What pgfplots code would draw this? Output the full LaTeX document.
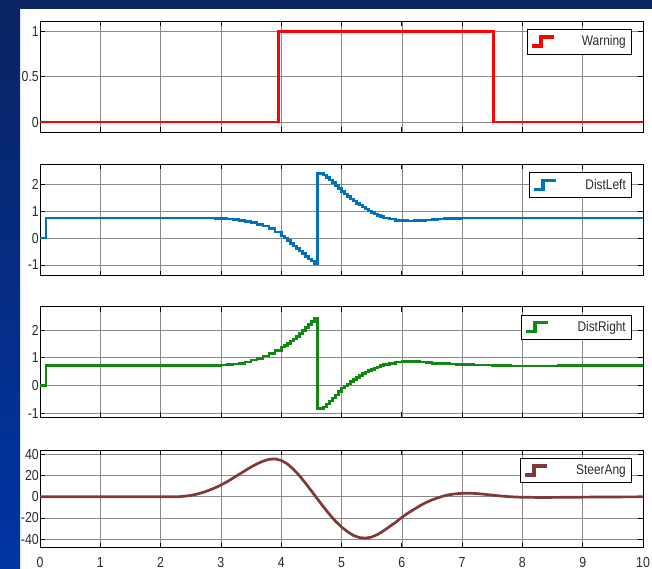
\documentclass[border=0pt]{standalone}
\usepackage{fontspec}
\setmainfont{Liberation Sans}[FakeStretch=0.85]
\usepackage{pgfplots}
\pgfplotsset{compat=1.18}
\definecolor{bgtop}{HTML}{0A2462}
\definecolor{bgbot}{HTML}{0035A6}
\definecolor{cred}{HTML}{FF0000}
\definecolor{cblue}{HTML}{0072BD}
\definecolor{cgreen}{HTML}{118811}
\definecolor{cbrown}{HTML}{7E3A38}
\definecolor{gridc}{HTML}{8A8A8A}
\definecolor{txt}{HTML}{2B2B2B}
\pgfplotsset{
 panel/.style={
  scale only axis, width=603pt,
  xmin=0, xmax=10, xtick={0,...,10},
  grid=major, major grid style={gridc, line width=0.6pt},
  axis line style={black, line width=0.9pt},
  tick align=inside, major tick length=5pt, tick style={black, line width=0.8pt},
  tick label style={font=\fontsize{14.5}{15}\selectfont, text=txt},
  yticklabel style={inner xsep=1pt},
  xticklabel style={yshift=-6pt},
  /pgf/number format/assume math mode=true,
  legend style={at={(1,1)}, anchor=north east, xshift=-12pt, yshift=-8pt, draw=black, font=\fontsize{14}{15}\selectfont, text=txt, inner xsep=3pt, inner ysep=4.5pt},
 },
 stepicon/.style={legend image code/.code={\draw[##1, line cap=butt, line width=3.4pt] (0pt,-4.5pt) -- (9pt,-4.5pt) -- (9pt,4.5pt) -- (22pt,4.5pt);}},
}
\begin{document}
\begin{tikzpicture}
\shade[top color=bgtop, bottom color=bgbot] (0,0) rectangle (652pt,569pt);
\fill[white] (20pt,0) rectangle (652pt,560pt);

% Warning
\begin{axis}[panel, at={(40pt,437pt)}, anchor=south west, height=111pt,
  ymin=-0.11, ymax=1.115, ytick={0,0.5,1}, yticklabels={0,0.5,1}, xticklabels={}]
\addplot[const plot, cred, line width=2.8pt, stepicon] coordinates {(0,0) (3.96,1) (7.52,0) (10,0)};
\addlegendentry{\makebox[68pt][r]{Warning}}
\end{axis}

% DistLeft
\begin{axis}[panel, at={(40pt,293.3pt)}, anchor=south west, height=111.4pt,
  ymin=-1.4, ymax=2.74, ytick={-1,0,1,2}, xticklabels={}]
\addplot[const plot, cblue, line width=2.6pt, stepicon] table {
0 0
0.1 0.74
2.7 0.74
2.8 0.738
2.9 0.735
3.0 0.73
3.1 0.71
3.2 0.69
3.3 0.66
3.4 0.62
3.5 0.57
3.6 0.51
3.7 0.44
3.8 0.35
3.9 0.23
4.0 0.08
4.05 0.0
4.1 -0.10
4.15 -0.20
4.2 -0.30
4.25 -0.39
4.3 -0.48
4.35 -0.58
4.4 -0.68
4.45 -0.78
4.5 -0.86
4.55 -0.95
4.6 2.40
4.65 2.40
4.7 2.34
4.75 2.26
4.8 2.16
4.85 2.06
4.9 1.95
4.95 1.84
5.0 1.73
5.05 1.63
5.1 1.54
5.15 1.45
5.2 1.37
5.25 1.29
5.3 1.22
5.35 1.15
5.4 1.08
5.45 1.01
5.5 0.95
5.55 0.89
5.6 0.83
5.65 0.79
5.7 0.75
5.8 0.70
5.9 0.66
6.0 0.64
6.1 0.635
6.2 0.64
6.3 0.655
6.4 0.675
6.5 0.695
6.6 0.71
6.7 0.72
6.8 0.73
6.9 0.735
7.0 0.74
8.0 0.745
10 0.75
};
\addlegendentry{\makebox[66pt][r]{DistLeft}}
\end{axis}

% DistRight
\begin{axis}[panel, at={(40pt,151.7pt)}, anchor=south west, height=110.6pt,
  ymin=-1.15, ymax=2.84, ytick={-1,0,1,2}, xticklabels={}]
\addplot[const plot, cgreen, line width=2.6pt, stepicon] table {
0 0
0.1 0.72
2.7 0.72
2.8 0.722
2.9 0.725
3.0 0.73
3.1 0.745
3.2 0.77
3.3 0.80
3.4 0.85
3.5 0.91
3.6 0.98
3.7 1.06
3.8 1.15
3.9 1.26
4.0 1.38
4.05 1.45
4.1 1.52
4.15 1.60
4.2 1.68
4.25 1.77
4.3 1.87
4.35 1.98
4.4 2.09
4.45 2.20
4.5 2.30
4.55 2.42
4.6 -0.84
4.65 -0.84
4.7 -0.78
4.75 -0.67
4.8 -0.56
4.85 -0.45
4.9 -0.34
4.95 -0.22
5.0 -0.10
5.05 -0.02
5.1 0.05
5.15 0.14
5.2 0.22
5.25 0.29
5.3 0.36
5.35 0.42
5.4 0.48
5.45 0.53
5.5 0.58
5.55 0.63
5.6 0.67
5.65 0.71
5.7 0.75
5.8 0.80
5.9 0.84
6.0 0.86
6.1 0.865
6.2 0.86
6.3 0.85
6.4 0.83
6.5 0.80
6.6 0.79
6.7 0.78
6.8 0.77
6.9 0.765
7.0 0.76
7.2 0.74
7.5 0.72
7.8 0.70
8.2 0.70
8.6 0.71
9.0 0.72
10 0.73
};
\addlegendentry{\makebox[74pt][r]{DistRight}}
\end{axis}

% SteerAng
\begin{axis}[panel, at={(40pt,21.3pt)}, anchor=south west, height=97.7pt,
  ymin=-48, ymax=44, ytick={-40,-20,0,20,40}]
\addplot[cbrown, line width=2.7pt, stepicon] table {
0 0
2.3 0
2.4 0.5
2.5 1.2
2.6 2.4
2.7 4.0
2.8 6.0
2.9 8.3
3.0 11
3.1 14
3.2 17.5
3.3 21
3.4 24.5
3.5 28
3.6 31
3.7 33.5
3.8 35.2
3.9 35.6
4.0 34.2
4.1 31
4.2 26
4.3 20
4.4 13
4.5 5.5
4.6 -2
4.7 -9.5
4.8 -16.5
4.9 -23
5.0 -28.5
5.1 -33
5.2 -36.5
5.3 -38.5
5.4 -39
5.5 -38
5.6 -35.5
5.7 -32
5.8 -28
5.9 -24
6.0 -19.5
6.1 -15.5
6.2 -12
6.3 -8.5
6.4 -5.5
6.5 -3
6.6 -1
6.7 0.8
6.8 2
6.9 2.8
7.0 3.2
7.1 3.3
7.2 3.1
7.3 2.7
7.4 2.1
7.5 1.5
7.6 0.9
7.7 0.4
7.8 0
7.9 -0.3
8.0 -0.5
8.3 -0.7
8.6 -0.6
9.0 -0.4
9.5 -0.2
10 -0.1
};
\addlegendentry{\makebox[75pt][r]{SteerAng}}
\end{axis}
\shade[top color=bgtop, bottom color=bgbot] (0,0) rectangle (20pt,569pt);
\pgfresetboundingbox
\path (0,0) rectangle (652pt,569pt);
\end{tikzpicture}
\end{document}
